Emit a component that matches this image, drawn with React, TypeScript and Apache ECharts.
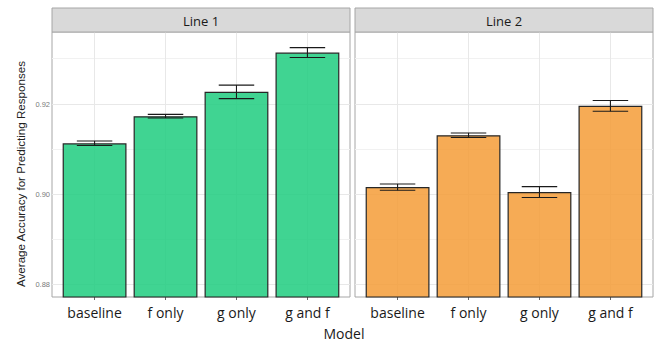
import React, { useEffect, useRef } from "react";
import * as echarts from "echarts";

const categories = ["baseline", "f only", "g only", "g and f"];
const panelTitles = ["Line 1", "Line 2"];
const line1Means = [0.9113, 0.9173, 0.9227, 0.9314];
const line1Errors = [0.0005, 0.0004, 0.0015, 0.0011];
const line2Means = [0.9016, 0.9131, 0.9005, 0.9196];
const line2Errors = [0.0007, 0.0005, 0.0012, 0.0012];
const yTickValues = [0.88, 0.9, 0.92];
const yMinorValues = [0.89, 0.91, 0.93];
const yTitle = "Average Accuracy for Predicting Responses";
const xTitle = "Model";

const Y_MIN = 0.87725;
const Y_MAX = 0.93596;
const X_MIN = -0.6;
const X_MAX = 3.6;

const FONT_MAIN = "Open Sans, Noto Sans, sans-serif";
const FONT_AXIS = "Liberation Sans, Arial, sans-serif";

const grids = [
  { left: 52, top: 32, width: 298, height: 265 },
  { left: 355, top: 32, width: 298, height: 265 },
];
const barColors = ["rgba(30,204,127,0.85)", "rgba(245,156,55,0.85)"];

const snap = (v: number) => Math.round(v - 0.5) + 0.5;

export default function App() {
  const ref = useRef<HTMLDivElement>(null);

  useEffect(() => {
    if (!ref.current) return;
    const chart = echarts.init(ref.current, null, { renderer: "svg" });
    const means = [line1Means, line2Means];
    const errs = [line1Errors, line2Errors];
    const catIdx = categories.map((_, i) => i);

    const series: any[] = [];
    grids.forEach((_, g) => {
      // horizontal grid lines (major + minor)
      series.push({
        type: "custom",
        xAxisIndex: g,
        yAxisIndex: g,
        z: 1,
        silent: true,
        data: [
          ...yTickValues.map((v) => [0, v, 1]),
          ...yMinorValues.map((v) => [0, v, 0]),
        ],
        renderItem: (params: any, api: any) => {
          const cs = params.coordSys;
          const y = snap(api.coord([0, api.value(1)])[1]);
          const major = api.value(2) === 1;
          return {
            type: "line",
            shape: { x1: cs.x, y1: y, x2: cs.x + cs.width, y2: y },
            style: { stroke: major ? "#e8e8e8" : "#f1f1f1", lineWidth: 1 },
          };
        },
      });
      // vertical grid lines at categories
      series.push({
        type: "custom",
        xAxisIndex: g,
        yAxisIndex: g,
        z: 1,
        silent: true,
        data: catIdx.map((i) => [i, Y_MIN]),
        renderItem: (params: any, api: any) => {
          const cs = params.coordSys;
          const x = snap(api.coord([api.value(0), Y_MIN])[0]);
          return {
            type: "line",
            shape: { x1: x, y1: cs.y, x2: x, y2: cs.y + cs.height },
            style: { stroke: "#e8e8e8", lineWidth: 1 },
          };
        },
      });
      // bars
      series.push({
        type: "bar",
        xAxisIndex: g,
        yAxisIndex: g,
        z: 2,
        barWidth: (grids[g].width / (X_MAX - X_MIN)) * 0.9,
        data: means[g].map((v, i) => [i, v]),
        itemStyle: {
          color: barColors[g],
          borderColor: "#262626",
          borderWidth: 1.2,
        },
      });
      // error bars
      series.push({
        type: "custom",
        xAxisIndex: g,
        yAxisIndex: g,
        z: 3,
        silent: true,
        data: means[g].map((v, i) => [i, v, errs[g][i]]),
        renderItem: (params: any, api: any) => {
          const x = api.value(0);
          const m = api.value(1);
          const e = api.value(2);
          const top = api.coord([x, m + e]);
          const bot = api.coord([x, m - e]);
          const half = api.size([0.25, 0])[0];
          const style = { stroke: "#1a1a1a", lineWidth: 1.1 };
          return {
            type: "group",
            children: [
              { type: "line", shape: { x1: top[0], y1: top[1], x2: bot[0], y2: bot[1] }, style },
              { type: "line", shape: { x1: top[0] - half, y1: top[1], x2: top[0] + half, y2: top[1] }, style },
              { type: "line", shape: { x1: bot[0] - half, y1: bot[1], x2: bot[0] + half, y2: bot[1] }, style },
            ],
          };
        },
      });
    });

    const graphics: any[] = [];
    grids.forEach((gr, g) => {
      graphics.push({
        type: "rect",
        shape: { x: gr.left, y: 8, width: gr.width, height: 24 },
        style: { fill: "#d9d9d9", stroke: "#a6a6a6", lineWidth: 1 },
        z: 10,
      });
      graphics.push({
        type: "text",
        x: gr.left + gr.width / 2,
        y: 20.5,
        style: {
          text: panelTitles[g],
          fill: "#1a1a1a",
          font: `13px ${FONT_MAIN}`,
          align: "center",
          verticalAlign: "middle",
        },
        z: 11,
      });
    });
    graphics.push({
      type: "text",
      x: 344,
      y: 333,
      style: {
        text: xTitle,
        fill: "#1a1a1a",
        font: `14px ${FONT_MAIN}`,
        align: "center",
        verticalAlign: "middle",
      },
    });
    graphics.push({
      type: "text",
      x: 20,
      y: 287,
      rotation: Math.PI / 2,
      style: {
        text: yTitle,
        fill: "#222",
        font: `11.6px ${FONT_AXIS}`,
        align: "left",
        verticalAlign: "middle",
      },
    });

    chart.setOption({
      animation: false,
      grid: grids.map((gr) => ({
        ...gr,
        show: true,
        borderColor: "#a6a6a6",
        borderWidth: 1,
        backgroundColor: "#ffffff",
      })),
      xAxis: grids.map((_, g) => ({
        gridIndex: g,
        type: "value",
        min: X_MIN,
        max: X_MAX,
        axisLine: { show: false },
        splitLine: { show: false },
        axisTick: {
          show: true,
          length: 3,
          customValues: catIdx,
          lineStyle: { color: "#666", width: 1 },
        },
        axisLabel: {
          customValues: catIdx,
          formatter: (v: number) => categories[Math.round(v)] ?? "",
          fontSize: 14,
          fontFamily: FONT_MAIN,
          color: "#1a1a1a",
          margin: 8,
        },
      })),
      yAxis: grids.map((_, g) => ({
        gridIndex: g,
        type: "value",
        min: Y_MIN,
        max: Y_MAX,
        axisLine: { show: false },
        splitLine: { show: false },
        axisTick: {
          show: g === 0,
          length: 3,
          customValues: yTickValues,
          lineStyle: { color: "#666", width: 1 },
        },
        axisLabel: {
          show: g === 0,
          customValues: yTickValues,
          formatter: (v: number) => v.toFixed(2),
          fontSize: 7.5,
          fontFamily: FONT_AXIS,
          color: "#7a7a7a",
          margin: 2,
        },
      })),
      series,
      graphic: graphics,
    });

    return () => chart.dispose();
  }, []);

  return (
    <div
      ref={ref}
      style={{ position: "fixed", left: 0, top: 0, width: 670, height: 342, background: "#fff" }}
    />
  );
}
